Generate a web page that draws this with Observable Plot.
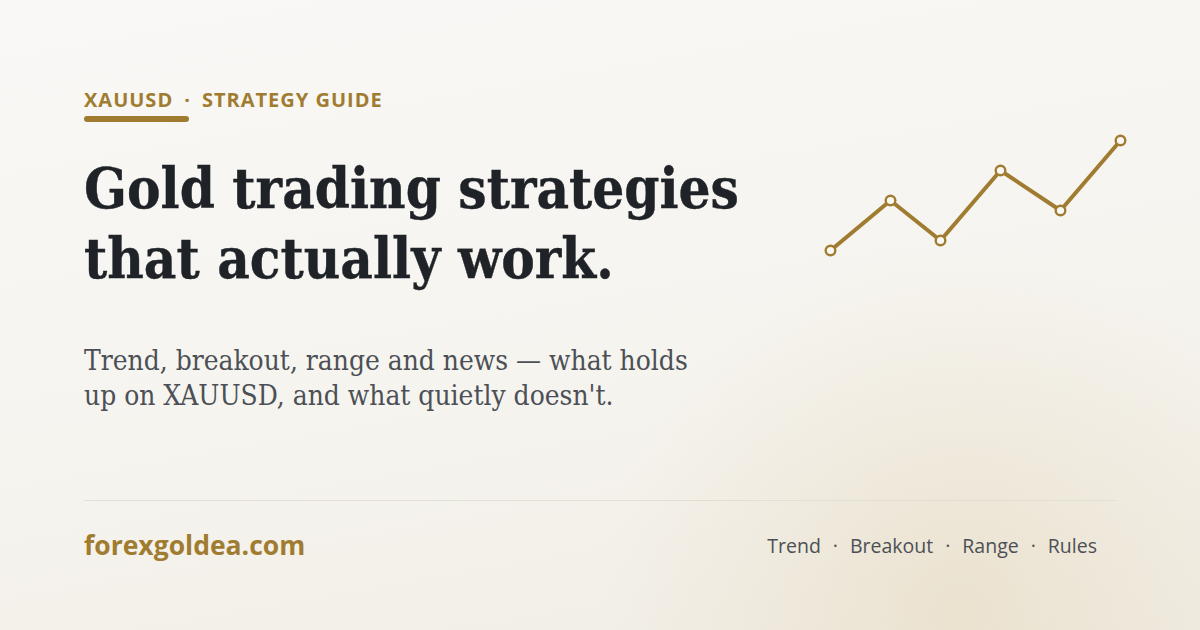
<!DOCTYPE html>
<html>
<head>
<meta charset="utf-8">
<script src="https://cdn.jsdelivr.net/npm/d3@7"></script>
<script src="https://cdn.jsdelivr.net/npm/@observablehq/plot@0.6"></script>
<style>
  html, body { margin: 0; padding: 0; }
  body {
    width: 1200px; height: 630px; overflow: hidden; position: relative;
    background:
      radial-gradient(circle at 960px 610px, rgba(229,216,188,0.55) 0px, rgba(229,216,188,0.25) 180px, rgba(229,216,188,0) 360px),
      linear-gradient(170deg, #f9f8f6 0%, #f6f4ef 55%, #f1ede5 100%);
  }
  .abs { position: absolute; white-space: nowrap; }
  #kicker { left: 84px; font: 700 20px "Open Sans", sans-serif; color: #a07c30; letter-spacing: 1px; }
  #kicker .sep { padding: 0 11px; }
  #bar { left: 84px; top: 116px; width: 105px; height: 6px; border-radius: 3px; background: #a07c30; }
  #title { left: 84px; font-family: "DejaVu Serif", serif; font-weight: 700; font-stretch: condensed; line-height: 70px; color: #1f2327; -webkit-text-stroke: 0.4px #1f2327; }
  #sub { left: 84px; font-family: "DejaVu Serif", serif; font-weight: 400; font-stretch: condensed; line-height: 35px; color: #4c5056; }
  #rule { left: 84px; top: 500px; width: 1032px; height: 1px; background: #e4dfd5; }
  #site { left: 84px; font: 700 26.5px "Open Sans", sans-serif; color: #a07c30; }
  #tags { right: 103px; font: 400 19.5px "Open Sans", sans-serif; color: #4c5056; }
  #tags .sep { padding: 0 12px; }
  #chart { position: absolute; left: 815px; top: 125px; }
</style>
</head>
<body>
<div id="kicker" class="abs"></div>
<div id="bar" class="abs"></div>
<div id="title" class="abs"></div>
<div id="sub" class="abs"></div>
<div id="rule" class="abs"></div>
<div id="site" class="abs"></div>
<div id="tags" class="abs"></div>
<div id="chart"></div>
<script>
// ---- data ----
const kickerParts = ["XAUUSD", "STRATEGY GUIDE"];
const titleLines = ["Gold trading strategies", "that actually work."];
const subLines = ["Trend, breakout, range and news \u2014 what holds", "up on XAUUSD, and what quietly doesn't."];
const siteName = "forexgoldea.com";
const tagLabels = ["Trend", "Breakout", "Range", "Rules"];
const stepX = [0, 60, 110, 170, 230, 290];
const priceY = [0, 50, 10, 80, 40, 110];

const gold = "#a07c30";

// ---- text ----
const el = id => document.getElementById(id);
el("kicker").innerHTML = kickerParts.join('<span class="sep">\u00b7</span>');
el("title").innerHTML = titleLines.map(t => `<span class="ln">${t}</span>`).join("<br>");
el("sub").innerHTML = subLines.map(t => `<span class="ln">${t}</span>`).join("<br>");
el("site").textContent = siteName;
el("tags").innerHTML = tagLabels.join('<span class="sep">\u00b7</span>');

// fit a block's first line to a target width
function fitWidth(node, target) {
  node.style.fontSize = "50px";
  const w = node.querySelector(".ln").getBoundingClientRect().width;
  node.style.fontSize = (50 * target / w).toFixed(2) + "px";
}
// place a block so that its first baseline sits at y
function placeBaseline(node, y) {
  node.style.top = "0px";
  const probe = document.createElement("span");
  probe.style.cssText = "display:inline-block;width:0;height:0;vertical-align:baseline";
  node.insertBefore(probe, node.firstChild);
  const b = probe.getBoundingClientRect().top;
  probe.remove();
  node.style.top = (y - b) + "px";
}
fitWidth(el("title"), 655);
fitWidth(el("sub"), 604);
placeBaseline(el("kicker"), 107);
placeBaseline(el("title"), 208);
placeBaseline(el("sub"), 370);
placeBaseline(el("site"), 555);
placeBaseline(el("tags"), 553);

// ---- chart ----
const pts = stepX.map((x, i) => ({x, y: priceY[i]}));
const chart = Plot.plot({
  width: 320,
  height: 140,
  marginTop: 15, marginBottom: 15, marginLeft: 15, marginRight: 15,
  x: {domain: [0, 290], axis: null},
  y: {domain: [0, 110], axis: null},
  style: {background: "transparent", overflow: "visible"},
  marks: [
    Plot.line(pts, {x: "x", y: "y", stroke: gold, strokeWidth: 4, strokeLinejoin: "round", strokeLinecap: "round"}),
    Plot.dot(pts, {x: "x", y: "y", r: 4.8, fill: "#faf8f4", stroke: gold, strokeWidth: 2.4})
  ]
});
el("chart").appendChild(chart);
</script>
</body>
</html>
